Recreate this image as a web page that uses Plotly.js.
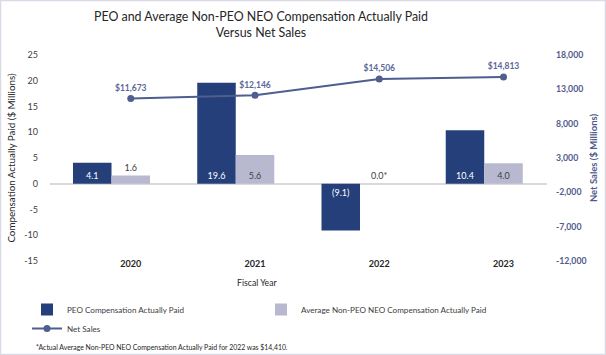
<!DOCTYPE html>
<html>
<head>
<meta charset="utf-8">
<script src="https://cdn.plot.ly/plotly-3.0.1.min.js"></script>
<style>
html,body{margin:0;padding:0;background:#fff;}
#chart{width:606px;height:355px;}
</style>
</head>
<body>
<div id="chart"></div>
<script>
// ---- data ----
var years = ['2020', '2021', '2022', '2023'];
var peoCap = [4.1, 19.6, -9.1, 10.4];
var nonPeoCap = [1.6, 5.6, 0.0, 4.0];
var nonPeoNote = ['', '', '*', ''];
var netSales = [11673, 12146, 14506, 14813];
var leftTicks = [-15, -10, -5, 0, 5, 10, 15, 20, 25];
var rightTicks = [-12000, -7000, -2000, 3000, 8000, 13000, 18000];
var footnote = '*Actual Average Non-PEO NEO Compensation Actually Paid for 2022 was $14,410.';

function fmtComp(v) { return v < 0 ? '(' + Math.abs(v).toFixed(1) + ')' : v.toFixed(1); }
function fmtThousands(v) { return (v < 0 ? '-' : '') + Math.abs(v).toLocaleString('en-US'); }

var FONT = 'Lato, "Open Sans", sans-serif';
var W = 606, H = 355;
var L = 50, R = 59, T = 55, B = 94;
var pw = W - L - R, ph = H - T - B;
function px2x(px) { return (px - L) / pw; }
function py2y(py) { return (H - B - py) / ph; }

var traces = [
  {
    type: 'bar', name: 'PEO Compensation Actually Paid',
    x: years, y: peoCap,
    offset: -0.465, width: 0.31,
    marker: {color: '#243f79'},
    text: peoCap.map(fmtComp),
    textposition: 'inside', insidetextanchor: 'start',
    textfont: {color: '#ffffff', size: 9, family: FONT},
    constraintext: 'none', cliponaxis: false,
    hoverinfo: 'skip'
  },
  {
    type: 'bar', name: 'Average Non-PEO NEO Compensation Actually Paid',
    x: years, y: nonPeoCap,
    offset: -0.155, width: 0.31,
    marker: {color: '#b8b9d1'},
    text: nonPeoCap.map(function (v, i) { return v.toFixed(1) + nonPeoNote[i]; }),
    textposition: nonPeoCap.map(function (v) { return v < 3 ? 'outside' : 'inside'; }),
    insidetextanchor: 'start',
    textfont: {color: '#404040', size: 9, family: FONT},
    outsidetextfont: {color: '#404040', size: 9, family: FONT},
    constraintext: 'none', cliponaxis: false,
    hoverinfo: 'skip'
  },
  {
    type: 'scatter', name: 'Net Sales',
    x: years, y: netSales, yaxis: 'y2',
    mode: 'lines+markers+text',
    line: {color: '#4f5d8f', width: 2},
    marker: {color: '#4f5d8f', size: 7},
    text: netSales.map(function (v) { return '<b>$' + fmtThousands(v) + '</b>'; }),
    textposition: 'top center',
    textfont: {color: '#5b6699', size: 8.5, family: FONT},
    cliponaxis: false,
    hoverinfo: 'skip'
  }
];

var layout = {
  width: W, height: H,
  margin: {l: L, r: R, t: T, b: B, pad: 0},
  paper_bgcolor: '#ffffff', plot_bgcolor: '#ffffff',
  font: {family: FONT, color: '#404040', size: 9},
  showlegend: true,
  title: {
    text: 'PEO and Average Non-PEO NEO Compensation Actually Paid<br>Versus Net Sales',
    font: {family: FONT, size: 12.4, color: '#262626'},
    x: 261 / W, xref: 'container', xanchor: 'center',
    y: 1 - 21 / H, yref: 'container', yanchor: 'top'
  },
  barmode: 'overlay',
  xaxis: {
    type: 'category', range: [-0.65, 3.35],
    showgrid: false, showline: false, zeroline: false, ticks: '',
    tickfont: {family: FONT, size: 9, color: '#262626', weight: 'bold'},
    ticklabelstandoff: -4,
    fixedrange: true
  },
  yaxis: {
    range: [-15, 25],
    tickvals: leftTicks, ticktext: leftTicks.map(String),
    showgrid: false, showline: false, ticks: '',
    zeroline: true, zerolinecolor: '#d9d9d9', zerolinewidth: 2,
    tickfont: {family: FONT, size: 9, color: '#404040'},
    ticklabelstandoff: 11,
    title: {text: 'Compensation Actually Paid ($ Millions)', font: {family: FONT, size: 9.8, color: '#262626'}, standoff: 6},
    fixedrange: true
  },
  yaxis2: {
    overlaying: 'y', side: 'right',
    range: [-12000, 18000],
    tickvals: rightTicks, ticktext: rightTicks.map(fmtThousands),
    showgrid: false, showline: false, zeroline: false, ticks: '',
    tickfont: {family: FONT, size: 8.7, color: '#4f5b8c', weight: 'bold'},
    ticklabelstandoff: 8,
    title: {text: 'Net Sales ($ Millions)', font: {family: FONT, size: 9.5, color: '#4f5b8c', weight: 'bold'}, standoff: 4},
    fixedrange: true
  },
  legend: {
    orientation: 'h',
    xref: 'container', yref: 'container',
    x: 27 / W, xanchor: 'left',
    y: 1 - 295 / H, yanchor: 'top',
    entrywidth: 189, entrywidthmode: 'pixels',
    font: {family: FONT, size: 8.1, color: '#404040'},
    itemwidth: 30, tracegroupgap: 0,
    bgcolor: 'rgba(0,0,0,0)'
  },
  annotations: [
    {
      text: 'Fiscal Year', showarrow: false,
      xref: 'paper', yref: 'paper',
      x: px2x(257), y: py2y(282), xanchor: 'center', yanchor: 'middle',
      font: {family: FONT, size: 8.7, color: '#262626'}
    },
    {
      text: footnote, showarrow: false,
      xref: 'paper', yref: 'paper',
      x: px2x(34), y: py2y(347), xanchor: 'left', yanchor: 'middle',
      font: {family: FONT, size: 6.9, color: '#262626'}
    }
  ],
  shapes: [
    {
      type: 'rect', xref: 'paper', yref: 'paper',
      x0: px2x(0.5), x1: px2x(W - 0.5), y0: py2y(H - 0.5), y1: py2y(0.5),
      line: {color: '#d9d9e8', width: 1.5}, fillcolor: 'rgba(0,0,0,0)', layer: 'above'
    }
  ]
};

Plotly.newPlot('chart', traces, layout, {displayModeBar: false, staticPlot: true});
</script>
</body>
</html>
